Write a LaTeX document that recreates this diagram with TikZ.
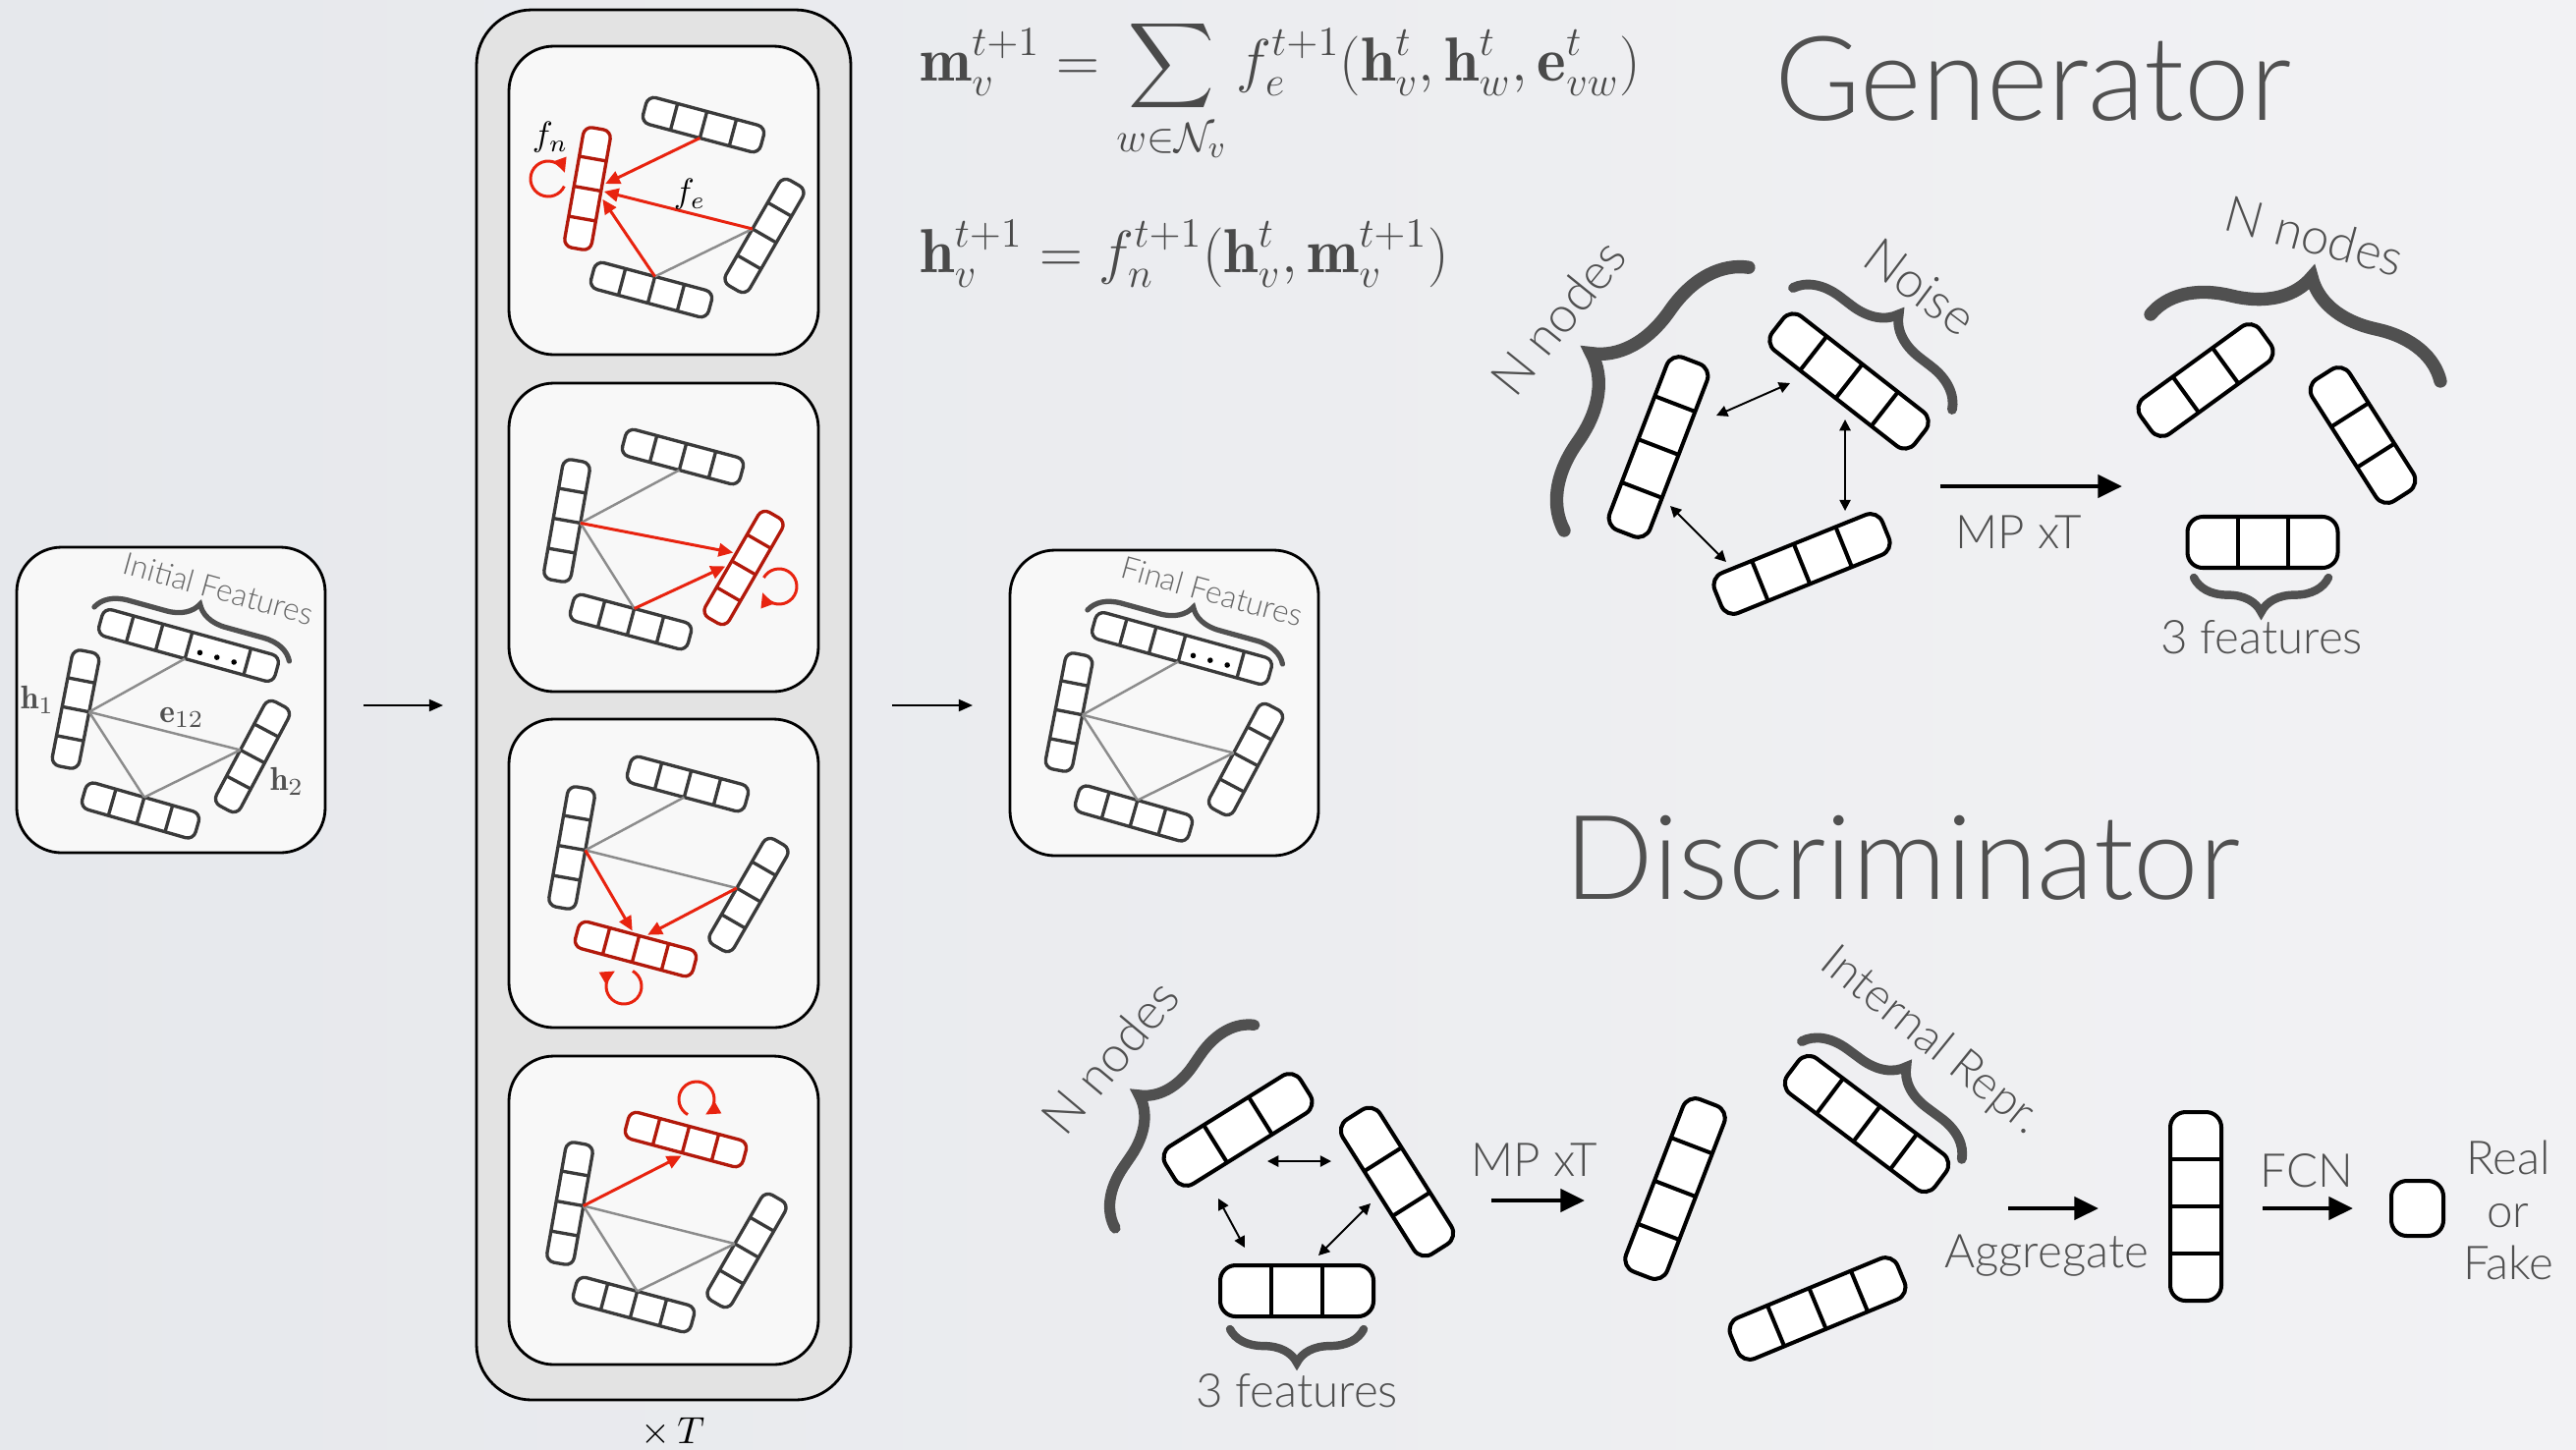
\documentclass[tikz,border=0pt]{standalone}
\usepackage{amsmath}
\usepackage{fontspec}
\usetikzlibrary{arrows.meta,decorations.pathreplacing,calc}
\newfontfamily\gill{Lato}[UprightFont=* Light]
\definecolor{bgL}{HTML}{E6E8EC}
\definecolor{bgR}{HTML}{F2F2F4}
\definecolor{txtgray}{HTML}{505050}
\definecolor{lblgray}{HTML}{666666}
\definecolor{bracegray}{HTML}{505050}
\definecolor{colfill}{HTML}{E3E3E3}
\definecolor{panelfill}{HTML}{F8F8F8}
\definecolor{barline}{HTML}{3A3A3A}
\definecolor{redarrow}{HTML}{E8230F}
\definecolor{redbar}{HTML}{B2190B}
\definecolor{edgegray}{HTML}{8C8C8C}
\definecolor{eqgray}{HTML}{4A4A4A}

\tikzset{
  panelbar/.style={draw=barline,line width=0.95pt},
  redbarst/.style={draw=redbar,line width=0.95pt},
  bigbar/.style={draw=black,line width=1.15pt},
  gedge/.style={draw=edgegray,line width=0.7pt},
  rarrow/.style={draw=redarrow,line width=0.85pt,-{Triangle[length=4.2pt,width=3.8pt]},fill=none},
  thinarrow/.style={line width=0.6pt,-{Triangle[length=4pt,width=3.4pt]}},
  bigarrow/.style={line width=1.3pt,-{Triangle[length=7pt,width=6.5pt]}},
  dblarrow/.style={line width=0.55pt,{Triangle[length=3.2pt,width=3.2pt]}-{Triangle[length=3.2pt,width=3.2pt]}},
  bracest/.style={decorate,draw=bracegray,line cap=round},
  lbl/.style={text=txtgray,font=\gill\fontsize{13.5}{16}\selectfont,inner sep=0pt},
  boxst/.style={draw=black,line width=0.8pt,fill=panelfill,rounded corners=13pt},
}

% feature bar: name, cx, cy, angle, ncells, cellw, thickness, style
\newcommand{\fbar}[8]{%
  \begin{scope}[shift={({#2},{#3})},rotate=#4]
    \pgfmathsetmacro\bL{#5*#6}%
    \pgfmathsetmacro\bH{#7}%
    \pgfmathtruncatemacro\bN{#5-1}%
    \pgfmathsetlengthmacro\bR{0.3*#7*0.28453pt}%
    \draw[fill=white,rounded corners=\bR,#8] ({-\bL/2},{-\bH/2}) rectangle ({\bL/2},{\bH/2});
    \foreach \i in {1,...,\bN}{\draw[#8] ({-\bL/2+\i*#6},{-\bH/2}) -- ({-\bL/2+\i*#6},{\bH/2});}
    \coordinate (#1) at (0,0);
    \coordinate (#1-hu) at (0,{\bH/2});
    \coordinate (#1-hd) at (0,{-\bH/2});
    \coordinate (#1-u) at (0,{\bH/2+3});
    \coordinate (#1-d) at (0,{-\bH/2-3});
    \coordinate (#1-up) at (8,{\bH/2+3});
    \coordinate (#1-um) at (-8,{\bH/2+3});
    \coordinate (#1-dp) at (8,{-\bH/2-3});
    \coordinate (#1-dm) at (-8,{-\bH/2-3});
  \end{scope}}

% bar with dots and brace: name, cx, cy, angle, text
\newcommand{\dotbar}[5]{%
  \begin{scope}[shift={({#2},{#3})},rotate=#4]
    \draw[fill=white,rounded corners=2.4pt,panelbar] (-93,-14) rectangle (93,14);
    \foreach \xx in {-62,-31,0,62}{\draw[panelbar] (\xx,-14) -- (\xx,14);}
    \foreach \xx in {13,31,49}{\fill[black] (\xx,-4) circle[radius=2.8];}
    \coordinate (#1) at (0,0);
    \coordinate (#1-hd) at (0,-14);
    \draw[bracest,line width=1.5pt,decoration={brace,amplitude=9pt}] (-103,12) -- (103,12);
    \node[transform shape,text=lblgray,font=\gill\fontsize{9}{10}\selectfont,inner sep=0pt] (#1-lab) at (14,64) {#5};
  \end{scope}}

% column panel: prefix, ox, oy(down), styles top,left,right,bottom
\newcommand{\gpanel}[7]{%
  \fbar{#1t}{#2+180}{-#3-75}{-15}{4}{31}{28}{#4}
  \fbar{#1l}{#2+62}{-#3-140}{80}{4}{31}{28}{#5}
  \fbar{#1r}{#2+242}{-#3-188}{60}{4}{31}{28}{#6}
  \fbar{#1b}{#2+127}{-#3-243}{-15}{4}{31}{28}{#7}}

% small graph box: prefix, ox, oy(down), label
\newcommand{\gbox}[4]{%
  \dotbar{#1t}{#2+175}{-#3-100}{-15.5}{#4}
  \fbar{#1l}{#2+60}{-#3-165}{79}{4}{30}{28}{panelbar}
  \fbar{#1r}{#2+240}{-#3-213}{62}{4}{30}{28}{panelbar}
  \fbar{#1b}{#2+126}{-#3-268}{-16}{4}{30}{28}{panelbar}
  \draw[gedge] (#1l-hd) -- (#1t-hd);
  \draw[gedge] (#1l-hd) -- (#1r-hu);
  \draw[gedge] (#1l-hd) -- (#1b-hu);
  \draw[gedge] (#1b-hu) -- (#1r-hu);}

\begin{document}
\begin{tikzpicture}[x=0.01cm,y=0.01cm]
\useasboundingbox (0,0) rectangle (2622,-1475);
\shade[left color=bgL,right color=bgR] (0,0) rectangle (2622,-1475);

% ---------------- initial features box
\draw[boxst] (17,-557) rectangle (331,-868);
\gbox{i}{17}{557}{Initial Features}
\node[text=txtgray,font=\fontsize{9.5}{11}\selectfont,inner sep=0pt] (h1lab) at (38,-712) {$\mathbf{h}_1$};
\node[text=txtgray,font=\fontsize{9.5}{11}\selectfont,inner sep=0pt] (e12lab) at (185,-730) {$\mathbf{e}_{12}$};
\node[text=txtgray,font=\fontsize{9.5}{11}\selectfont,inner sep=0pt] (h2lab) at (292,-795) {$\mathbf{h}_2$};

\coordinate (a1s) at (370,-718);
\coordinate (a1e) at (451,-718);
\draw[thinarrow] (a1s) -- (a1e);

% ---------------- column of message passing steps
\draw[draw=black,line width=0.8pt,fill=colfill,rounded corners=16pt] (485,-10) rectangle (866,-1425);
\foreach \yy in {47,390,732,1075}{\draw[boxst] (518,-\yy) rectangle (833,{-\yy-314});}

% panel 1
\gpanel{p1}{536}{52}{panelbar}{redbarst}{panelbar}{panelbar}
\draw[gedge] (p1b-hu) -- (p1r-hu);
\draw[rarrow] (p1t-hd) -- (p1l-dp);
\draw[rarrow] (p1r-hu) -- (p1l-d);
\draw[rarrow] (p1b-hu) -- (p1l-dm);
\draw[rarrow] ($(p1l)+(-40,10)+(-25:18)$) arc[start angle=-25,end angle=-340,radius=18];
\node[font=\fontsize{10}{12}\selectfont,inner sep=0pt] (fnlab) at (560,-140) {$f_n$};
\node[font=\fontsize{10}{12}\selectfont,inner sep=0pt] (felab) at (702,-198) {$f_e$};

% panel 2
\gpanel{p2}{515}{390}{panelbar}{panelbar}{redbarst}{panelbar}
\draw[gedge] (p2l-hd) -- (p2t-hd);
\draw[gedge] (p2l-hd) -- (p2b-hu);
\draw[rarrow] (p2l-hd) -- (p2r-up);
\draw[rarrow] (p2b-hu) -- (p2r-um);
\draw[rarrow] ($(p2r)+(36,-19)+(150:18)$) arc[start angle=150,end angle=-160,radius=18];

% panel 3
\gpanel{p3}{520}{723}{panelbar}{panelbar}{panelbar}{redbarst}
\draw[gedge] (p3l-hd) -- (p3t-hd);
\draw[gedge] (p3l-hd) -- (p3r-hu);
\draw[rarrow] (p3l-hd) -- (p3b-um);
\draw[rarrow] (p3r-hu) -- (p3b-up);
\draw[rarrow] ($(p3b)+(-12,-38)+(60:18)$) arc[start angle=60,end angle=-240,radius=18];

% panel 4
\gpanel{p4}{518}{1085}{redbarst}{panelbar}{panelbar}{panelbar}
\draw[gedge] (p4l-hd) -- (p4r-hu);
\draw[gedge] (p4l-hd) -- (p4b-hu);
\draw[gedge] (p4b-hu) -- (p4r-hu);
\draw[rarrow] (p4l-hd) -- (p4t-d);
\draw[rarrow] ($(p4t)+(11,41)+(240:18)$) arc[start angle=240,end angle=-60,radius=18];

\node[font=\fontsize{11}{13}\selectfont,inner sep=0pt] (timesT) at (685,-1458) {$\times\, T$};

\coordinate (a2s) at (908,-718);
\coordinate (a2e) at (990,-718);
\draw[thinarrow] (a2s) -- (a2e);

% ---------------- final features box
\draw[boxst] (1028,-560) rectangle (1342,-871);
\gbox{f}{1028}{560}{Final Features}

% ---------------- equations
\node[anchor=base west,inner sep=0pt,text=eqgray,font=\fontsize{18}{22}\selectfont] (eq1) at (936,-82)
  {$\displaystyle \mathbf{m}_v^{t+1} = \sum\limits_{w\in\mathcal{N}_v} f_e^{t+1}(\mathbf{h}_v^t, \mathbf{h}_w^t, \mathbf{e}_{vw}^t)$};
\node[anchor=base west,inner sep=0pt,text=eqgray,font=\fontsize{18}{22}\selectfont] (eq2) at (936,-277)
  {$\displaystyle \mathbf{h}_v^{t+1} = f_n^{t+1}(\mathbf{h}_v^t, \mathbf{m}_v^{t+1})$};

% ---------------- titles
\node[anchor=base west,inner sep=0pt,text=txtgray,font=\gill\fontsize{34}{38}\selectfont] (gentitle) at (1806,-122) {Generator};
\node[anchor=base west,inner sep=0pt,text=txtgray,font=\gill\fontsize{34}{38}\selectfont] (distitle) at (1592,-915) {Discriminator};

% ---------------- generator
\fbar{gl}{1688}{-455}{69}{4}{47}{44}{bigbar}
\fbar{gn}{1882}{-388}{-38}{4}{46}{44}{bigbar}
\fbar{gb}{1834}{-574}{22}{4}{46}{44}{bigbar}
\coordinate (ga1) at (1747,-423); \coordinate (ga2) at (1822,-390);
\coordinate (gb1) at (1878,-427); \coordinate (gb2) at (1878,-520);
\coordinate (gc1) at (1700,-515); \coordinate (gc2) at (1757,-572);
\draw[dblarrow] (ga1) -- (ga2);
\draw[dblarrow] (gb1) -- (gb2);
\draw[dblarrow] (gc1) -- (gc2);
\coordinate (gbr1) at (1592,-540); \coordinate (gbr2) at (1780,-272);
\draw[bracest,line width=3.8pt,decoration={brace,amplitude=23pt}] (gbr1) -- (gbr2);
\node[lbl,rotate=51,font=\gill\fontsize{14.5}{16}\selectfont] (gnlab) at (1586,-323) {N nodes};
\coordinate (gnz1) at (1825,-293); \coordinate (gnz2) at (1987,-417);
\draw[bracest,line width=2.8pt,decoration={brace,amplitude=12.5pt}] (gnz1) -- (gnz2);
\node[lbl,rotate=-37,font=\gill\fontsize{14.5}{16}\selectfont] (noiselab) at (1955,-292) {Noise};

\coordinate (gm1) at (1975,-495); \coordinate (gm2) at (2160,-495);
\draw[bigarrow] (gm1) -- (gm2);
\node[lbl] (gmplab) at (2055,-542) {MP xT};

\fbar{gr1}{2245}{-387}{36}{3}{50}{45}{bigbar}
\fbar{gr2}{2405}{-443}{-57.5}{3}{49}{45}{bigbar}
\fbar{gr3}{2303}{-552}{0}{3}{51}{52}{bigbar}
\coordinate (grb1) at (2189,-320); \coordinate (grb2) at (2484,-388);
\draw[bracest,line width=3.8pt,decoration={brace,amplitude=21pt}] (grb1) -- (grb2);
\node[lbl,rotate=-15,font=\gill\fontsize{14.5}{16}\selectfont] (grlab) at (2356,-240) {N nodes};
\coordinate (gfb1) at (2370,-588); \coordinate (gfb2) at (2233,-588);
\draw[bracest,line width=2.4pt,decoration={brace,amplitude=10pt}] (gfb1) -- (gfb2);
\node[lbl] (gflab) at (2302,-649) {3 features};

% ---------------- discriminator
\fbar{da}{1260}{-1150}{32}{3}{54}{45}{bigbar}
\fbar{db}{1422}{-1203}{-57.7}{3}{54}{45}{bigbar}
\fbar{dc}{1320}{-1314}{0}{3}{52}{52}{bigbar}
\coordinate (dd1) at (1290,-1182); \coordinate (dd2) at (1355,-1182);
\coordinate (de1) at (1240,-1220); \coordinate (de2) at (1267,-1270);
\coordinate (df1) at (1395,-1225); \coordinate (df2) at (1342,-1278);
\draw[dblarrow] (dd1) -- (dd2);
\draw[dblarrow] (de1) -- (de2);
\draw[dblarrow] (df1) -- (df2);
\coordinate (dnb1) at (1135,-1250); \coordinate (dnb2) at (1277,-1043);
\draw[bracest,line width=3.2pt,decoration={brace,amplitude=16pt}] (dnb1) -- (dnb2);
\node[lbl,rotate=50,font=\gill\fontsize{14.5}{16}\selectfont] (dnlab) at (1130,-1076) {N nodes};
\coordinate (dfb1) at (1388,-1353); \coordinate (dfb2) at (1252,-1353);
\draw[bracest,line width=2.4pt,decoration={brace,amplitude=9.7pt}] (dfb1) -- (dfb2);
\node[lbl] (dflab) at (1320,-1416) {3 features};

\coordinate (dm1) at (1518,-1222); \coordinate (dm2) at (1613,-1222);
\draw[bigarrow] (dm1) -- (dm2);
\node[lbl] (dmplab) at (1562,-1181) {MP xT};

\fbar{d1}{1705}{-1210}{69}{4}{47}{45}{bigbar}
\fbar{d2}{1900}{-1144}{-37}{4}{47}{45}{bigbar}
\fbar{d3}{1850}{-1332}{22.5}{4}{46}{45}{bigbar}
\coordinate (dib1) at (1834,-1060); \coordinate (dib2) at (1997,-1180);
\draw[bracest,line width=2.8pt,decoration={brace,amplitude=12pt}] (dib1) -- (dib2);
\node[lbl,rotate=-39] (dilab) at (1965,-1060) {Internal Repr.};

\coordinate (dag1) at (2044,-1230); \coordinate (dag2) at (2136,-1230);
\draw[bigarrow] (dag1) -- (dag2);
\node[lbl] (daglab) at (2083,-1278) {Aggregate};

\fbar{dv}{2235}{-1228}{90}{4}{48}{52}{bigbar}

\coordinate (dfc1) at (2303,-1230); \coordinate (dfc2) at (2395,-1230);
\draw[bigarrow] (dfc1) -- (dfc2);
\node[lbl] (fcnlab) at (2348,-1192) {FCN};

\draw[bigbar,fill=white,rounded corners=4.5pt] (2434,-1202) rectangle (2487,-1258);
\coordinate (dout) at (2460,-1230);
\node[lbl,align=center,font=\gill\fontsize{13.5}{15.2}\selectfont] (rflab) at (2553,-1232) {Real\\or\\Fake};

\end{tikzpicture}
\end{document}
